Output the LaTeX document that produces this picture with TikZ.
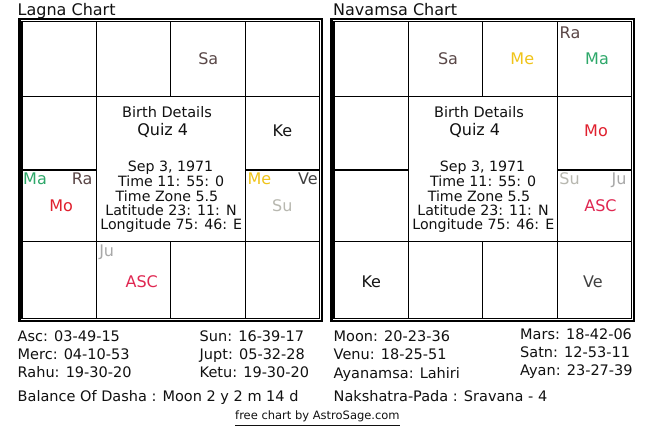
\documentclass[tikz,border=0pt]{standalone}
\usepackage{fontspec}
\setmainfont{DejaVu Sans}
\definecolor{sacol}{HTML}{5A4848}
\definecolor{racol}{HTML}{5A4646}
\definecolor{kecol}{HTML}{151515}
\definecolor{vecol}{HTML}{404040}
\definecolor{macol}{HTML}{2EA86A}
\definecolor{mocol}{HTML}{E0202E}
\definecolor{mecol}{HTML}{F0C419}
\definecolor{sucol}{HTML}{B8B8B0}
\definecolor{jucol}{HTML}{A8A8A8}
\definecolor{asccol}{HTML}{E02852}
\definecolor{txtcol}{HTML}{111111}
\tikzset{
  planet/.style={anchor=base, inner sep=0pt, font=\fontsize{16}{18}\selectfont},
  title/.style={anchor=base west, inner sep=0pt, font=\fontsize{16}{18}\selectfont, text=txtcol},
  bdhead/.style={anchor=base, inner sep=0pt, font=\fontsize{14.5}{16}\selectfont, text=txtcol},
  quiz/.style={anchor=base, inner sep=0pt, font=\fontsize{16}{18}\selectfont, text=txtcol},
  detail/.style={anchor=base, inner sep=0pt, font=\fontsize{14.2}{16}\selectfont, text=txtcol},
  info/.style={anchor=base west, inner sep=0pt, font=\fontsize{14.5}{16}\selectfont, text=txtcol},
  foot/.style={anchor=base west, inner sep=0pt, font=\fontsize{11.5}{13}\selectfont, text=txtcol},
  outerframe/.style={draw=black, line width=2.4pt},
  innerframe/.style={draw=black, line width=1.2pt},
  gridline/.style={draw=black, line width=1.2pt}
}
\newcommand{\chartlines}{%
  \draw[outerframe] (19.5,19.3) rectangle (322,321.2);
  \draw[innerframe] (21.9,21.9) rectangle (319.3,318.8);
  \draw[gridline] (96.7,21.9) -- (96.7,318.8);
  \draw[gridline] (245.7,21.9) -- (245.7,318.8);
  \draw[gridline] (170.7,21.9) -- (170.7,96.5);
  \draw[gridline] (170.7,241.7) -- (170.7,318.8);
  \draw[gridline] (21.9,96.5) -- (319.3,96.5);
  \draw[gridline] (21.9,241.7) -- (319.3,241.7);
  \draw[gridline] (21.9,170) -- (96.7,170);
  \draw[gridline] (245.7,170) -- (319.3,170);
}
\begin{document}
\begin{tikzpicture}[x=1pt,y=-1pt]
\fill[white] (0,0) rectangle (660,430);
\useasboundingbox (0,0) rectangle (660,430);

% ---------- Lagna chart ----------
\chartlines
\node[title] (ltitle) at (17.5,15.7) {Lagna Chart};
\node[planet, text=sacol] (lsa) at (208.3,65) {Sa};
\node[planet, text=kecol] (lke) at (282.5,136.7) {Ke};
\node[planet, text=macol] (lma) at (35,185) {Ma};
\node[planet, text=racol] (lra) at (82.2,185) {Ra};
\node[planet, text=mocol] (lmo) at (61.2,211.7) {Mo};
\node[planet, text=mecol] (lme) at (259.5,185) {Me};
\node[planet, text=vecol] (lve) at (308,185) {Ve};
\node[planet, text=sucol] (lsu) at (282.3,211.7) {Su};
\node[planet, text=jucol] (lju) at (106.7,256.3) {Ju};
\node[planet, text=asccol] (lasc) at (141.7,287.3) {ASC};
\node[bdhead] (lbd) at (167,117.7) {Birth Details};
\node[quiz] (lquiz) at (162.7,135.7) {Quiz 4};
\node[detail] (ld1) at (170.5,171.7) {Sep 3, 1971};
\node[detail] (ld2) at (171.2,186) {Time 11: 55: 0};
\node[detail] (ld3) at (167,201) {Time Zone 5.5};
\node[detail] (ld4) at (171,215) {Latitude 23: 11: N};
\node[detail] (ld5) at (171.3,229.3) {Longitude 75: 46: E};

% ---------- Navamsa chart ----------
\begin{scope}[xshift=312pt]
\chartlines
\end{scope}
\node[title] (ntitle) at (333,15.7) {Navamsa Chart};
\node[planet, text=sacol] (nsa) at (448,65) {Sa};
\node[planet, text=mecol] (nme) at (522.3,65) {Me};
\node[planet, text=racol] (nra) at (570,38.3) {Ra};
\node[planet, text=macol] (nma) at (597,65) {Ma};
\node[planet, text=mocol] (nmo) at (596,136.7) {Mo};
\node[planet, text=sucol] (nsu) at (569.5,185) {Su};
\node[planet, text=jucol] (nju) at (619,185) {Ju};
\node[planet, text=asccol] (nasc) at (600.5,211.7) {ASC};
\node[planet, text=kecol] (nke) at (371.3,287.3) {Ke};
\node[planet, text=vecol] (nve) at (592.8,287.3) {Ve};
\node[bdhead] (nbd) at (479,117.7) {Birth Details};
\node[quiz] (nquiz) at (474.7,135.7) {Quiz 4};
\node[detail] (nd1) at (482.5,171.7) {Sep 3, 1971};
\node[detail] (nd2) at (483.2,186) {Time 11: 55: 0};
\node[detail] (nd3) at (479,201) {Time Zone 5.5};
\node[detail] (nd4) at (483,215) {Latitude 23: 11: N};
\node[detail] (nd5) at (483.3,229.3) {Longitude 75: 46: E};

% ---------- Bottom information ----------
\node[info] (asc) at (17.5,341.7) {Asc: 03-49-15};
\node[info] (merc) at (17.5,359.3) {Merc: 04-10-53};
\node[info] (rahu) at (17.5,377.7) {Rahu: 19-30-20};
\node[info] (dasha) at (17.5,401.7) {Balance Of Dasha : Moon 2 y 2 m 14 d};
\node[info] (sun) at (199.5,341.7) {Sun: 16-39-17};
\node[info] (jupt) at (199.5,359.3) {Jupt: 05-32-28};
\node[info] (ketu) at (199.5,377.7) {Ketu: 19-30-20};
\node[info] (moon) at (333.5,341.7) {Moon: 20-23-36};
\node[info] (venu) at (333.5,359.3) {Venu: 18-25-51};
\node[info] (ayanamsa) at (333.5,378.3) {Ayanamsa: Lahiri};
\node[info] (naksh) at (333.5,401.7) {Nakshatra-Pada : Sravana - 4};
\node[info] (mars) at (520,339) {Mars: 18-42-06};
\node[info] (satn) at (520,357.3) {Satn: 12-53-11};
\node[info] (ayan) at (520,375) {Ayan: 23-27-39};
\node[foot] (footer) at (235,419.3) {free chart by AstroSage.com};
\draw[line width=0.8pt, txtcol] ([yshift=-6.5pt]footer.base west) -- ([yshift=-6.5pt]footer.base east);
\end{tikzpicture}
\end{document}
